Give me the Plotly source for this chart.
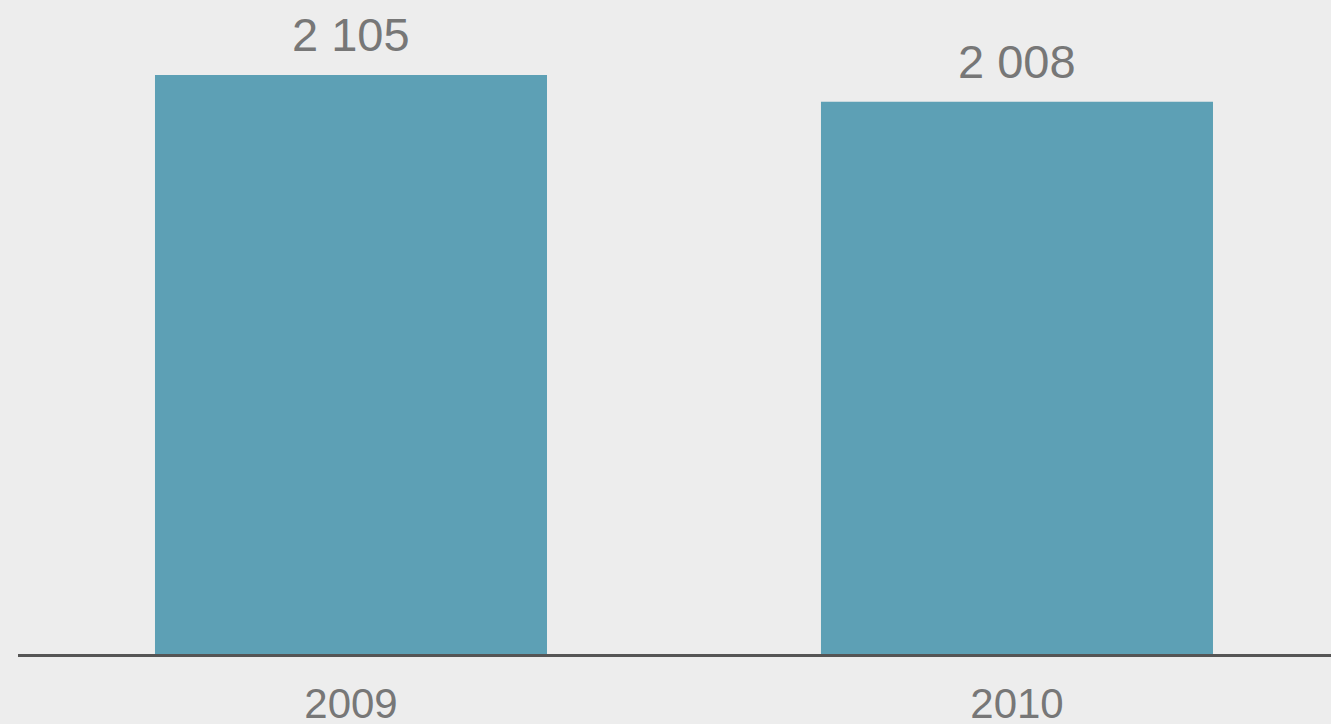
import plotly.graph_objects as go

categories = ["2009", "2010"]
values = [2105, 2008]

BG = "#EDEDED"
BAR = "#5DA0B5"
TXT = "#777777"

fig = go.Figure()
fig.add_trace(go.Bar(
    x=categories, y=values,
    marker=dict(color=BAR, line=dict(width=0)),
    width=0.5886,
    hoverinfo="skip",
))

for i, v in enumerate(values):
    fig.add_annotation(
        x=i, y=v, xref="x", yref="y",
        text=f"{v:,}".replace(",", " "),
        showarrow=False, yanchor="bottom", yshift=12,
        font=dict(family="Liberation Sans, Arial", size=47, color=TXT),
    )

fig.update_layout(
    width=1331, height=724,
    paper_bgcolor=BG, plot_bgcolor=BG,
    margin=dict(l=18, r=0, t=0, b=70),
    showlegend=False,
    xaxis=dict(
        type="category",
        range=[-0.5, 1.4715],
        automargin=False,
        showgrid=False, zeroline=False,
        showline=True, linecolor="#555555", linewidth=3,
        ticks="outside", ticklen=11, tickcolor="rgba(0,0,0,0)",
        tickfont=dict(family="Liberation Sans, Arial", size=42, color=TXT),
    ),
    yaxis=dict(
        range=[0, 2377.7],
        automargin=False,
        showgrid=False, zeroline=False, showticklabels=False,
        showline=False,
    ),
)

fig.write_html(
    "out.html",
    config={"displayModeBar": False},
    post_script="document.body.style.margin='0';document.body.style.background='#EDEDED';",
)
